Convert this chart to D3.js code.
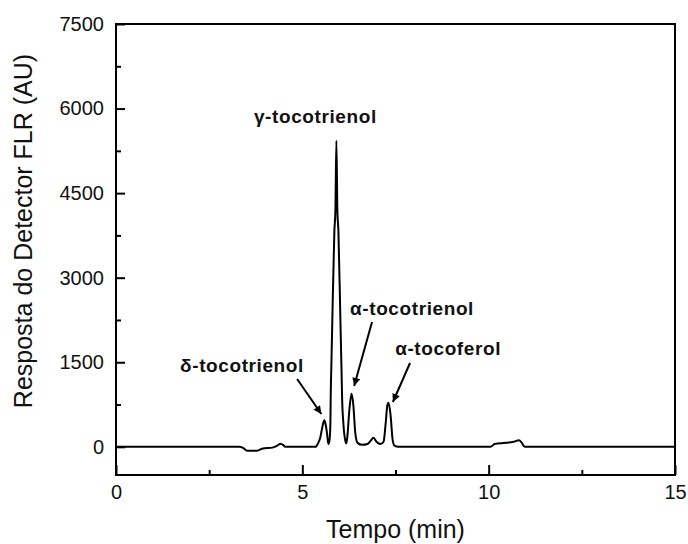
<!DOCTYPE html>
<meta charset="utf-8">
<head>
  <title>Cromatograma FLR</title>
  <style>
    body { margin: 0; background: #fff; }
    text { font-family: "Liberation Sans", Arial, sans-serif; fill: #111; }
  </style>
</head>

<script src="https://d3js.org/d3.v7.min.js"></script>

<svg id="chart" width="688" height="544"></svg>

<script>
// chromatogram: time (min) and detector response (AU)
var time = [0, 3.30, 3.41, 3.52, 3.79, 3.92, 4.22, 4.33, 4.41, 4.49, 4.54,
  5.35, 5.42, 5.48, 5.54, 5.59, 5.63, 5.66, 5.70,
  5.726, 5.753, 5.761, 5.78, 5.806, 5.86, 5.887, 5.914,
  5.94, 5.968, 6.02, 6.048, 6.067, 6.102, 6.156,
  6.18, 6.21, 6.26, 6.32, 6.37, 6.42, 6.48,
  6.61, 6.75, 6.83, 6.91, 6.99, 7.10,
  7.18, 7.23, 7.28, 7.31, 7.37, 7.42, 7.47, 7.58,
  10.05, 10.16, 10.46, 10.67, 10.81, 10.89, 10.97, 15]
var signal = [0, 0, -20, -70, -70, -35, -10, 20, 55, 30, 0,
  0, 60, 160, 360, 470, 380, 250, 50,
  100, 410, 870, 1470, 2290, 3830, 4190, 5430,
  4190, 3830, 2290, 1470, 870, 410, 100,
  60, 195, 640, 940, 730, 250, 70,
  35, 50, 105, 160, 90, 50,
  90, 370, 730, 780, 550, 140, 20, 0,
  0, 50, 70, 90, 115, 70, 0, 0]

var xMajorTicks = [0, 5, 10, 15]
var xMinorTicks = [2.5, 7.5, 12.5]
var yMajorTicks = [0, 1500, 3000, 4500, 6000, 7500]
var yMinorTicks = [750, 2250, 3750, 5250, 6750]

// peak labels and arrows, in data units (min, AU)
var peakNames = ["γ-tocotrienol", "δ-tocotrienol", "α-tocotrienol", "α-tocoferol"]
var labelT = [5.35, 1.72, 6.28, 7.49]
var labelV = [5744, 1327, 2338, 1629]
var labelAnchor = ["middle", "start", "start", "start"]
var arrowFrom = [null, [4.86, 1203], [6.87, 2214], [7.89, 1487]]
var arrowTo = [null, [5.51, 582], [6.39, 1079], [7.43, 795]]

var svg = d3.select("#chart")
var plotL = 116, plotR = 675, plotT = 24, plotB = 475

var x = d3.scaleLinear().domain([0, 15]).range([plotL, plotR])
var y = d3.scaleLinear().domain([-500, 7500]).range([plotB, plotT])

// frame
svg.append("rect")
  .attr("x", plotL).attr("y", plotT)
  .attr("width", plotR - plotL).attr("height", plotB - plotT)
  .attr("fill", "none").attr("stroke", "#000").attr("stroke-width", 2)

// axes, ticks pointing inward
svg.append("g").attr("class", "ax").attr("transform", "translate(0," + plotB + ")")
  .call(d3.axisBottom(x).tickValues(xMajorTicks).tickSize(-10).tickPadding(10)
    .tickFormat(d3.format("d")))
svg.append("g").attr("class", "ax").attr("transform", "translate(0," + plotB + ")")
  .call(d3.axisBottom(x).tickValues(xMinorTicks).tickSize(-5).tickFormat(""))

svg.append("g").attr("class", "ax").attr("transform", "translate(" + plotL + ",0)")
  .call(d3.axisLeft(y).tickValues(yMajorTicks).tickSize(-9).tickPadding(12)
    .tickFormat(d3.format("d")))
svg.append("g").attr("class", "ax").attr("transform", "translate(" + plotL + ",0)")
  .call(d3.axisLeft(y).tickValues(yMinorTicks).tickSize(-5).tickFormat(""))

svg.selectAll(".ax").attr("font-size", 20).attr("font-family", "'Liberation Sans', Arial, sans-serif")
svg.selectAll(".domain").remove()
svg.selectAll(".tick line").attr("stroke", "#000").attr("stroke-width", 2)
svg.selectAll(".tick text").attr("fill", "#111")

// axis titles
svg.append("text")
  .attr("x", (plotL + plotR) / 2).attr("y", 538)
  .attr("text-anchor", "middle").style("font-size", "25px")
  .text("Tempo (min)")

svg.append("text")
  .attr("transform", "translate(32,231) rotate(-90)")
  .attr("text-anchor", "middle").style("font-size", "25px")
  .text("Resposta do Detector FLR (AU)")

// chromatogram
var pts = time.map((t, i) => [t, signal[i]])
svg.append("path")
  .datum(pts)
  .attr("fill", "none").attr("stroke", "#000").attr("stroke-width", 2)
  .attr("stroke-linejoin", "round")
  .attr("d", d3.line().x(d => x(d[0])).y(d => y(d[1])).curve(d3.curveMonotoneX))

// arrow heads
svg.append("defs").append("marker")
  .attr("id", "head").attr("viewBox", "0 0 10 10")
  .attr("refX", 10).attr("refY", 5)
  .attr("markerUnits", "userSpaceOnUse")
  .attr("markerWidth", 10).attr("markerHeight", 8)
  .attr("orient", "auto")
  .append("path").attr("d", "M0,0 L10,5 L0,10 Z").attr("fill", "#000")

peakNames.forEach(function(name, i) {
  svg.append("text")
    .attr("x", x(labelT[i])).attr("y", y(labelV[i]))
    .attr("text-anchor", labelAnchor[i])
    .style("font-size", "19px").style("font-weight", "bold")
    .style("letter-spacing", "0.6px")
    .text(name)
  if (arrowFrom[i]) {
    svg.append("line")
      .attr("x1", x(arrowFrom[i][0])).attr("y1", y(arrowFrom[i][1]))
      .attr("x2", x(arrowTo[i][0])).attr("y2", y(arrowTo[i][1]))
      .attr("stroke", "#000").attr("stroke-width", 2)
      .attr("marker-end", "url(#head)")
  }
})
</script>
